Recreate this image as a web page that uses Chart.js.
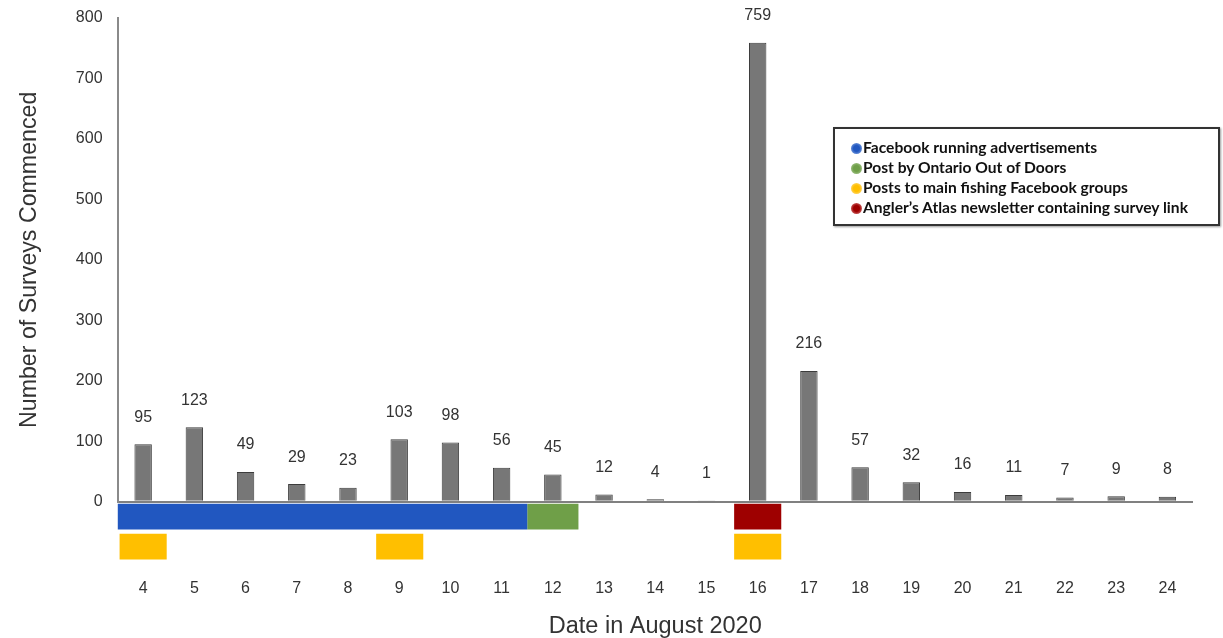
<!DOCTYPE html>
<html>
<head>
<meta charset="utf-8">
<title>Surveys commenced per day, August 2020</title>
<script src="https://cdn.jsdelivr.net/npm/chart.js@4/dist/chart.umd.min.js"></script>
<style>
  html, body { margin: 0; padding: 0; background: #ffffff; }
  #wrap { position: relative; width: 1223px; height: 638px; }
  #chart { position: absolute; left: 0; top: 0; }
  #legend {
    position: absolute; left: 833px; top: 127px; width: 383px; height: 95px;
    border: 2px solid #333333; box-shadow: 1px 1px 2px #9a9a9a;
    background: #ffffff; box-sizing: content-box;
    font: 700 15.6px Lato, "Liberation Sans", sans-serif; color: #111111;
  }
  #legend .item { position: absolute; left: 16px; height: 20px; line-height: 20px; white-space: nowrap; }
  #legend .dot {
    display: inline-block; width: 11px; height: 11px; border-radius: 50%;
    margin-right: 1px; vertical-align: -1px;
  }
</style>
</head>
<body>
<div id="wrap">
  <canvas id="chart" width="1223" height="638"></canvas>
  <div id="legend"></div>
</div>
<script>
// Days of August 2020 shown on the category axis
const days = ['4', '5', '6', '7', '8', '9', '10', '11', '12', '13', '14', '15', '16', '17', '18', '19', '20', '21', '22', '23', '24'];

// Surveys commenced on each day
const surveys = [95, 123, 49, 29, 23, 103, 98, 56, 45, 12, 4, 1, 759, 216, 57, 32, 16, 11, 7, 9, 8];

// Value-axis ticks
const yTickValues = [0, 100, 200, 300, 400, 500, 600, 700, 800];

// Promotion periods, as [start, end] on the day axis
const adsPeriods = [[3.5, 11.5]];
const ontarioPeriods = [[11.5, 12.5]];
const groupPostPeriods = [[3.54, 4.46], [8.55, 9.47], [15.54, 16.46]];
const newsletterPeriods = [[15.54, 16.46]];

// Rows of the promotion timeline under the axis
const timelineRows = ['campaign', 'groups'];

const promotions = [
  { label: 'Facebook running advertisements', periods: adsPeriods, row: 'campaign', color: '#2157c0', dotEdge: '#9cb9ea' },
  { label: 'Post by Ontario Out of Doors', periods: ontarioPeriods, row: 'campaign', color: '#6f9f48', dotEdge: '#b8d2a4' },
  { label: 'Posts to main fishing Facebook groups', periods: groupPostPeriods, row: 'groups', color: '#ffbf00', dotEdge: '#ffe3a0' },
  { label: 'Angler\u2019s Atlas newsletter containing survey link', periods: newsletterPeriods, row: 'campaign', color: '#9e0000', dotEdge: '#e79a9a' }
];

const FONT = '"Liberation Sans", Arial, sans-serif';
const TEXT = '#333333';

const timelineDatasets = promotions.map(p => ({
  type: 'bar',
  label: p.label,
  indexAxis: 'y',
  xAxisID: 'xT',
  yAxisID: 'yT',
  grouped: false,
  data: p.periods.map(span => ({ x: span, y: p.row })),
  backgroundColor: p.color,
  borderWidth: 0,
  barPercentage: 0.86,
  categoryPercentage: 1.0,
  order: 1
}));

// Value labels above the day bars
const valueLabels = {
  id: 'valueLabels',
  afterDatasetsDraw(chart) {
    const meta = chart.getDatasetMeta(0);
    const ctx = chart.ctx;
    ctx.save();
    ctx.font = '16px ' + FONT;
    ctx.fillStyle = TEXT;
    ctx.textAlign = 'center';
    ctx.textBaseline = 'middle';
    meta.data.forEach((bar, i) => {
      ctx.fillText(String(surveys[i]), bar.x, bar.y - 27);
    });
    ctx.restore();
  }
};

const chart = new Chart(document.getElementById('chart'), {
  type: 'bar',
  data: {
    labels: days,
    datasets: [
      {
        label: 'Surveys commenced',
        data: surveys,
        xAxisID: 'x',
        yAxisID: 'y',
        backgroundColor: '#777777',
        borderColor: '#3c3c3c',
        borderWidth: 1,
        barPercentage: 0.34,
        categoryPercentage: 1.0,
        grouped: false,
        order: 0
      },
      ...timelineDatasets
    ]
  },
  options: {
    responsive: false,
    animation: false,
    events: [],
    layout: { padding: { top: 0, right: 30, left: 16, bottom: 0 } },
    plugins: {
      legend: { display: false },
      tooltip: { enabled: false }
    },
    scales: {
      x: {
        type: 'category',
        position: 'bottom',
        offset: true,
        grid: { display: false, drawTicks: false },
        border: { display: false },
        ticks: { font: { size: 16, family: FONT }, color: TEXT, padding: 17, maxRotation: 0 },
        title: {
          display: true, text: 'Date in August 2020',
          font: { size: 23.5, family: FONT }, color: TEXT,
          padding: { top: -2, bottom: -3 }
        }
      },
      xT: {
        type: 'linear',
        axis: 'x',
        position: 'bottom',
        display: false,
        offset: false,
        min: 3.5,
        max: 24.5
      },
      y: {
        type: 'linear',
        axis: 'y',
        position: 'left',
        stack: 'left',
        stackWeight: 484,
        weight: 1,
        min: 0,
        max: 800,
        afterBuildTicks: scale => { scale.ticks = yTickValues.map(v => ({ value: v })); },
        afterFit: scale => { scale.paddingTop = 18; },
        grid: {
          drawTicks: false,
          lineWidth: 2,
          color: c => (c.tick && c.tick.value === 0 ? '#808080' : 'rgba(0,0,0,0)')
        },
        border: { display: true, color: '#8a8a8a', width: 2 },
        ticks: { font: { size: 16, family: FONT }, color: TEXT, padding: 15 },
        title: {
          display: true, text: 'Number of Surveys Commenced',
          font: { size: 23.2, family: FONT }, color: TEXT,
          padding: { top: 0, bottom: 17 }
        }
      },
      yT: {
        type: 'category',
        axis: 'y',
        position: 'left',
        stack: 'left',
        stackWeight: 60,
        weight: 0,
        labels: timelineRows,
        offset: true,
        grid: { display: false, drawTicks: false },
        border: { display: false },
        ticks: { display: false }
      }
    }
  },
  plugins: [valueLabels]
});

// Legend for the promotion timeline
const legend = document.getElementById('legend');
promotions.forEach((p, i) => {
  const item = document.createElement('div');
  item.className = 'item';
  item.style.top = (8 + i * 20) + 'px';
  const dot = document.createElement('span');
  dot.className = 'dot';
  dot.style.background = 'radial-gradient(circle, ' + p.color + ' 0%, ' + p.color + ' 38%, ' + p.dotEdge + ' 100%)';
  item.appendChild(dot);
  item.appendChild(document.createTextNode(p.label));
  legend.appendChild(item);
});
</script>
</body>
</html>
